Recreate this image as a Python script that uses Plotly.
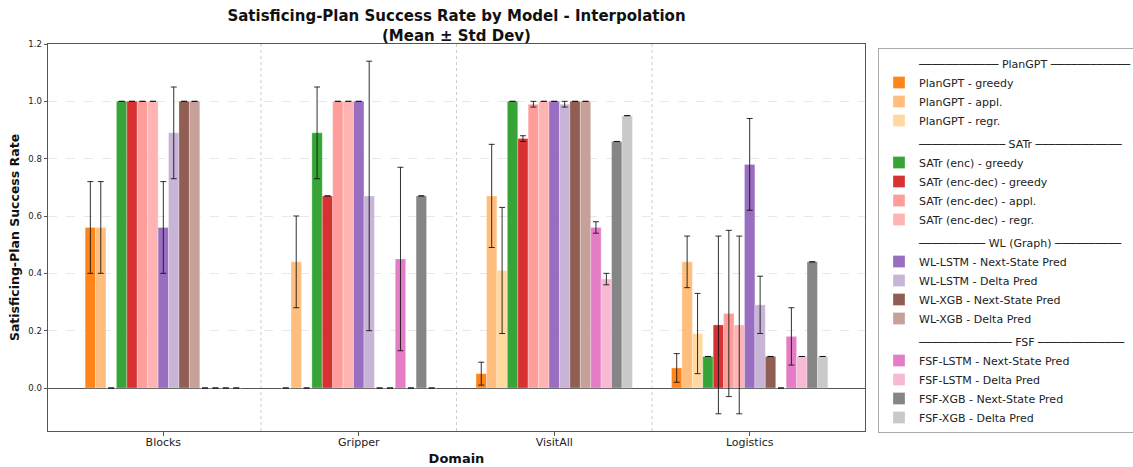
import plotly.graph_objects as go

# ---------------- data ----------------
domains = ["Blocks", "Gripper", "VisitAll", "Logistics"]

series_names = [
    "PlanGPT - greedy", "PlanGPT - appl.", "PlanGPT - regr.",
    "SATr (enc) - greedy", "SATr (enc-dec) - greedy", "SATr (enc-dec) - appl.", "SATr (enc-dec) - regr.",
    "WL-LSTM - Next-State Pred", "WL-LSTM - Delta Pred", "WL-XGB - Next-State Pred", "WL-XGB - Delta Pred",
    "FSF-LSTM - Next-State Pred", "FSF-LSTM - Delta Pred", "FSF-XGB - Next-State Pred", "FSF-XGB - Delta Pred",
]
series_groups = ["PlanGPT"] * 3 + ["SATr"] * 4 + ["WL (Graph)"] * 4 + ["FSF"] * 4

mean_plangpt_greedy = [0.56, 0.00, 0.05, 0.07]
std_plangpt_greedy = [0.16, 0.00, 0.04, 0.05]
mean_plangpt_appl = [0.56, 0.44, 0.67, 0.44]
std_plangpt_appl = [0.16, 0.16, 0.18, 0.09]
mean_plangpt_regr = [0.00, 0.00, 0.41, 0.19]
std_plangpt_regr = [0.00, 0.00, 0.22, 0.14]

mean_satr_enc_greedy = [1.00, 0.89, 1.00, 0.11]
std_satr_enc_greedy = [0.00, 0.16, 0.00, 0.00]
mean_satr_encdec_greedy = [1.00, 0.67, 0.87, 0.22]
std_satr_encdec_greedy = [0.00, 0.00, 0.01, 0.31]
mean_satr_encdec_appl = [1.00, 1.00, 0.99, 0.26]
std_satr_encdec_appl = [0.00, 0.00, 0.01, 0.29]
mean_satr_encdec_regr = [1.00, 1.00, 1.00, 0.22]
std_satr_encdec_regr = [0.00, 0.00, 0.00, 0.31]

mean_wl_lstm_next = [0.56, 1.00, 1.00, 0.78]
std_wl_lstm_next = [0.16, 0.00, 0.00, 0.16]
mean_wl_lstm_delta = [0.89, 0.67, 0.99, 0.29]
std_wl_lstm_delta = [0.16, 0.47, 0.01, 0.10]
mean_wl_xgb_next = [1.00, 0.00, 1.00, 0.11]
std_wl_xgb_next = [0.00, 0.00, 0.00, 0.00]
mean_wl_xgb_delta = [1.00, 0.00, 1.00, 0.00]
std_wl_xgb_delta = [0.00, 0.00, 0.00, 0.00]

mean_fsf_lstm_next = [0.00, 0.45, 0.56, 0.18]
std_fsf_lstm_next = [0.00, 0.32, 0.02, 0.10]
mean_fsf_lstm_delta = [0.00, 0.00, 0.38, 0.11]
std_fsf_lstm_delta = [0.00, 0.00, 0.02, 0.00]
mean_fsf_xgb_next = [0.00, 0.67, 0.86, 0.44]
std_fsf_xgb_next = [0.00, 0.00, 0.00, 0.00]
mean_fsf_xgb_delta = [0.00, 0.00, 0.95, 0.11]
std_fsf_xgb_delta = [0.00, 0.00, 0.00, 0.00]

y_ticks = [0.0, 0.2, 0.4, 0.6, 0.8, 1.0, 1.2]

means = [
    mean_plangpt_greedy, mean_plangpt_appl, mean_plangpt_regr,
    mean_satr_enc_greedy, mean_satr_encdec_greedy, mean_satr_encdec_appl, mean_satr_encdec_regr,
    mean_wl_lstm_next, mean_wl_lstm_delta, mean_wl_xgb_next, mean_wl_xgb_delta,
    mean_fsf_lstm_next, mean_fsf_lstm_delta, mean_fsf_xgb_next, mean_fsf_xgb_delta,
]
stds = [
    std_plangpt_greedy, std_plangpt_appl, std_plangpt_regr,
    std_satr_enc_greedy, std_satr_encdec_greedy, std_satr_encdec_appl, std_satr_encdec_regr,
    std_wl_lstm_next, std_wl_lstm_delta, std_wl_xgb_next, std_wl_xgb_delta,
    std_fsf_lstm_next, std_fsf_lstm_delta, std_fsf_xgb_next, std_fsf_xgb_delta,
]

# ---------------- style ----------------
colors = [
    "#ff7f0e", "#ffbb78", "#ffd89b",
    "#2ca02c", "#d62728", "#ff9896", "#ffb1b1",
    "#9467bd", "#c5b0d5", "#8c564b", "#c49c94",
    "#e377c2", "#f7b6d2", "#7f7f7f", "#c7c7c7",
]
LINE = "\u2500"
NB = "\u00a0"
header_dashes = {"PlanGPT": (12, 12), "SATr": (13, 13), "WL (Graph)": (10, 10), "FSF": (14, 13)}


def header(g):
    a, b = header_dashes[g]
    return NB * 10 + LINE * a + " " + g + " " + LINE * b


FONT = "DejaVu Sans"
LEG_SIZE = 11
n = len(series_names)
w = 0.8 / n

fig = go.Figure()
for i in range(n):
    g = series_groups[i]
    fig.add_trace(go.Bar(
        x=domains,
        y=means[i],
        name=series_names[i],
        width=w,
        offset=(i - n / 2) * w,
        marker=dict(color=colors[i], line=dict(color="rgba(255,255,255,0.6)", width=0.5)),
        opacity=0.95,
        error_y=dict(type="data", array=stds[i], visible=True,
                     color="rgba(0,0,0,0.85)", thickness=1, width=3),
        legendgroup=g,
        legendgrouptitle=dict(text=header(g), font=dict(size=LEG_SIZE, color="#222", family=FONT)),
    ))

# separators between domain groups
for k in range(len(domains) - 1):
    fig.add_shape(type="line", xref="x", yref="paper", x0=k + 0.5, x1=k + 0.5, y0=0, y1=1,
                  line=dict(color="#cccccc", width=1, dash="dot"), layer="below")

fig.update_layout(
    width=1133, height=467,
    barmode="overlay",
    plot_bgcolor="white", paper_bgcolor="white",
    font=dict(family=FONT, color="#222"),
    margin=dict(l=48, r=268, t=44, b=36, autoexpand=False),
    title=dict(
        text="<b>Satisficing-Plan Success Rate by Model - Interpolation<br>(Mean \u00b1 Std Dev)</b>",
        x=0.5, xref="paper", xanchor="center",
        y=1 - 21 / 467, yref="container", yanchor="top",
        font=dict(size=15, family=FONT, color="#111"),
    ),
    legend=dict(
        xref="container", yref="container",
        x=878 / 1133, xanchor="left",
        y=1 - 48 / 467, yanchor="top",
        maxheight=440,
        bordercolor="#aaa", borderwidth=1, bgcolor="white",
        font=dict(size=LEG_SIZE, family=FONT, color="#222"),
        traceorder="grouped", tracegroupgap=4,
    ),
    showlegend=True,
)

fig.update_xaxes(
    type="category", range=[-0.59, 3.59], automargin=False,
    showline=True, mirror=True, linecolor="#555", linewidth=1,
    ticks="outside", ticklen=3.5, tickcolor="#555", ticklabelstandoff=-3,
    tickfont=dict(size=11, family=FONT, color="#222"),
    showgrid=False, zeroline=False,
    title=dict(text="<b>Domain</b>", font=dict(size=13, family=FONT, color="#111"), standoff=6),
)
fig.update_yaxes(
    range=[-0.15, 1.2], automargin=False,
    tickvals=y_ticks, tickformat=".1f",
    showline=True, mirror=True, linecolor="#555", linewidth=1,
    ticks="outside", ticklen=3.5, tickcolor="#555",
    tickfont=dict(size=8.5, family=FONT, color="#222"),
    showgrid=True, gridcolor="#e8e8e8", griddash="dash", gridwidth=1,
    zeroline=True, zerolinecolor="#555", zerolinewidth=1,
    title=dict(text="<b>Satisficing-Plan Success Rate</b>", font=dict(size=12.5, family=FONT, color="#111"), standoff=5),
)

fig.write_html("out.html", config={"displayModeBar": False},
               post_script="document.body.style.margin='0';")
